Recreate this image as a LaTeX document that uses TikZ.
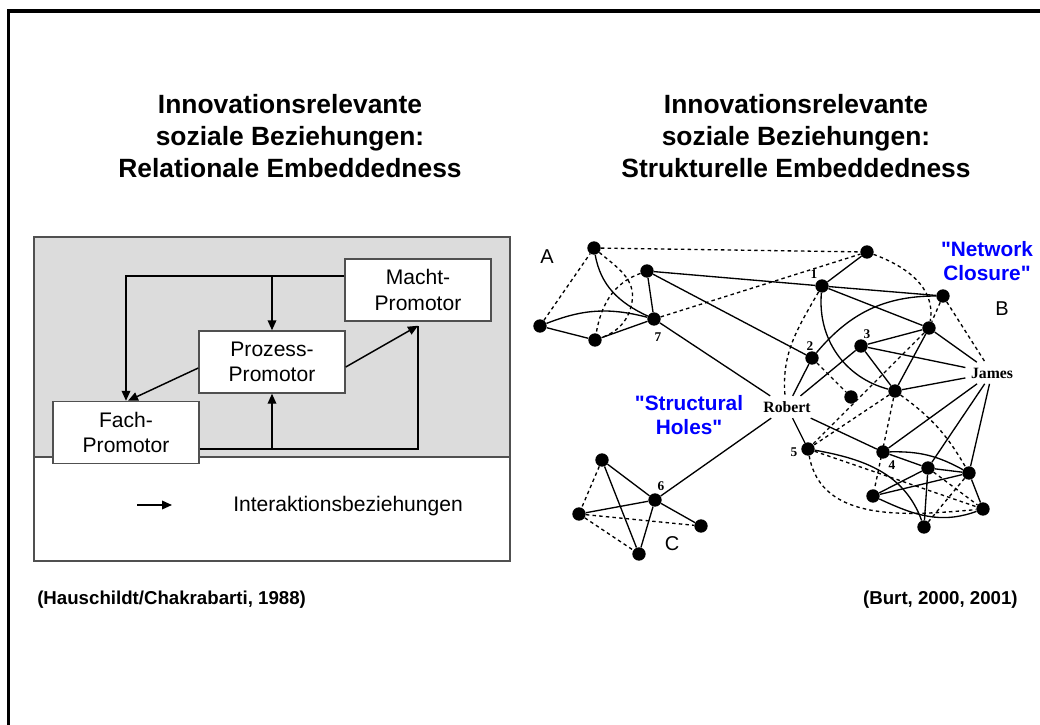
\documentclass[tikz,border=0pt]{standalone}
\usepackage{fontspec}
\setmainfont{Liberation Sans}
\newfontfamily\netfont{Liberation Serif}
% plain font without TeX ligature mapping, so that " stays a straight quote
\font\quotefont="Liberation Sans/B" at 15.6pt
\usetikzlibrary{arrows.meta,calc}
\definecolor{panelgray}{HTML}{DCDCDC}
\definecolor{boxline}{HTML}{505050}
\definecolor{hiblue}{HTML}{0000FF}
\begin{document}
\begin{tikzpicture}[x=0.75pt,y=-0.75pt,
  title/.style={align=center,font=\fontsize{19.8}{24}\selectfont\bfseries},
  cite/.style={font=\fontsize{14}{17}\selectfont\bfseries},
  promo/.style={draw=boxline,line width=1.1pt,fill=white,minimum width=146*0.75pt,
    minimum height=62*0.75pt,align=center,inner sep=0pt,
    font=\fontsize{15.8}{19}\selectfont},
  arr/.style={line width=1.1pt,-{Triangle[length=7.5pt,width=6.5pt]}},
  dot/.style={circle,fill=black,inner sep=0pt,minimum size=10pt},
  tie/.style={line width=1pt},
  weak/.style={line width=1pt,dash pattern=on 2.6pt off 2.4pt},
  pname/.style={font=\netfont\bfseries\fontsize{11.8}{14}\selectfont,inner sep=4pt},
  num/.style={font=\netfont\bfseries\fontsize{10}{12}\selectfont,inner sep=0pt},
  group/.style={font=\fontsize{15}{18}\selectfont,inner sep=0pt},
  bluetxt/.style={align=center,text=hiblue,font={\quotefont\baselineskip=18pt\relax},inner sep=0pt}]

\useasboundingbox (0,0) rectangle (1040,725);
% frame
\draw[line width=2.3pt] (8.5,725) -- (8.5,11) -- (1040,11);

% headings
\node[title] (t1) at (290,136) {Innovationsrelevante\\soziale Beziehungen:\\Relationale Embeddedness};
\node[title] (t2) at (796,136) {Innovationsrelevante\\soziale Beziehungen:\\Strukturelle Embeddedness};

% ---------- promotor model ----------
\fill[panelgray] (34,237) rectangle (510,457);
\draw[boxline,line width=1.1pt] (34,237) rectangle (510,561);
\draw[boxline,line width=1.1pt] (34,457) -- (510,457);

\node[promo] (macht) at (418,290) {Macht-\\Promotor};
\node[promo] (prozess) at (272,362) {Prozess-\\Promotor};
\node[promo] (fach) at (126,432.5) {Fach-\\Promotor};

\coordinate (mtap) at ($(macht.west)+(0,-14)$);
\coordinate (ftap) at ($(fach.east)+(0,16.5)$);
\coordinate (meet) at ($(macht.south)+(0,4)$);

\draw[arr] (mtap) -| (fach.north);
\draw[arr] (prozess.north |- mtap) -- (prozess.north);
\draw[arr] ($(prozess.west)+(0,6)$) -- ($(fach.north)+(2,0)$);
\draw[arr] ($(prozess.east)+(0,5)$) -- (meet);
\draw[line width=1.1pt] (ftap) -| (meet);
\draw[arr] (prozess.south |- ftap) -- (prozess.south);

\coordinate (lg1) at (137,505);
\coordinate (lg2) at (172,505);
\draw[arr] (lg1) -- (lg2);
\node[anchor=west,font=\fontsize{15.8}{19}\selectfont,inner sep=0pt] (lgtext) at (233,506) {Interaktionsbeziehungen};

\node[cite,anchor=west,inner sep=0pt] (c1text) at (37,600) {(Hauschildt/Chakrabarti, 1988)};
\node[cite,anchor=east,inner sep=0pt] (c2text) at (1018,600) {(Burt, 2000, 2001)};

% ---------- network ----------
% cluster A
\node[dot] (a1) at (594,248) {};
\node[dot] (a2) at (647,271) {};
\node[dot] (n7) at (654,319) {};
\node[dot] (a3) at (540,326) {};
\node[dot] (a4) at (595,340) {};
% cluster B
\node[dot] (nt) at (867,252) {};
\node[dot] (n1) at (822,286) {};
\node[dot] (nr) at (943,296) {};
\node[dot] (nm) at (929,328) {};
\node[dot] (n3) at (861,346) {};
\node[dot] (n2) at (812,358) {};
\node[dot] (ns) at (851,397) {};
\node[dot] (nc) at (895,391) {};
\node[dot] (n5) at (808,449) {};
\node[dot] (n4) at (883,452) {};
\node[dot] (na) at (928,468) {};
\node[dot] (nb) at (969,473) {};
\node[dot] (nd) at (873,496) {};
\node[dot] (ne) at (983,509) {};
\node[dot] (nf) at (924,527) {};
% cluster C
\node[dot] (c1) at (602,460) {};
\node[dot] (n6) at (655,500) {};
\node[dot] (c2) at (579,514) {};
\node[dot] (c3) at (701,526) {};
\node[dot] (c4) at (639,554) {};

\node[pname] (robert) at (787,407) {Robert};
\node[pname] (james) at (992,373) {James};

\node[num] (l1) at (814,274) {1};
\node[num] (l2) at (810,346) {2};
\node[num] (l3) at (867,334) {3};
\node[num] (l4) at (892,465) {4};
\node[num] (l5) at (794,452) {5};
\node[num] (l6) at (661,486) {6};
\node[num] (l7) at (658,337) {7};

\node[group] (gA) at (547,257) {A};
\node[group] (gB) at (1002,309) {B};
\node[group] (gC) at (672,544) {C};

\node[bluetxt] (holes) at (689,415) {"Structural\\Holes"};
\node[bluetxt] (closure) at (987,261) {"Network\\Closure"};

% ties in A
\draw[weak] (a3) -- (a1);
\draw[tie] (a3) -- (a4);
\draw[tie] (a3) to[bend left=18] (n7);
\draw[tie] (a4) -- (n7);
\draw[tie] (a2) -- (n7);
\draw[tie] (a1) to[out=-80,in=155] (n7);
\draw[weak] (a1) to[out=-40,in=80] (632,302) to[out=-100,in=20] (a4);
\draw[weak] (a2) to[out=200,in=80] (a4);
% bridges
\draw[weak] (a1) -- (nt);
\draw[weak] (n7) -- (nt);
\draw[tie] (a2) -- (n1);
\draw[tie] (a2) -- (n2);
\draw[tie] (n7) -- (robert);
\draw[tie] (n6) -- (robert);
% ties in B
\draw[tie] (n1) -- (nt);
\draw[tie] (n1) -- (nr);
\draw[tie] (n1) -- (nm);
\draw[tie] (n1) to[out=-95,in=165] (nc);
\draw[weak] (n1) to[out=-120,in=95] (robert.100);
\draw[weak] (nt) to[out=-20,in=80] (nm);
\draw[weak] (nr) -- (nm);
\draw[weak] (nr) -- (james);
\draw[tie] (nr) to[out=180,in=50] (n2);
\draw[tie] (nm) -- (n3);
\draw[tie] (nm) -- (james);
\draw[tie] (nm) -- (nc);
\draw[weak] (nm) -- (n5);
\draw[tie] (n3) -- (james);
\draw[tie] (n3) -- (nc);
\draw[tie] (n3) -- (robert);
\draw[tie] (n2) -- (robert);
\draw[weak] (n2) -- (ns);
\draw[tie] (nc) -- (james);
\draw[weak] (nc) -- (nd);
\draw[weak] (nc) -- (n5);
\draw[weak] (nc) to[bend left=12] (nb);
\draw[tie] (robert) -- (n5);
\draw[tie] (robert) -- (n4);
\draw[tie] (james) -- (n4);
\draw[tie] (james) -- (na);
\draw[tie] (james) -- (nb);
\draw[tie] (n4) -- (na);
\draw[tie] (n4) to[bend left=15] (nb);
\draw[tie] (na) -- (nb);
\draw[tie] (na) -- (nd);
\draw[tie] (nb) -- (nd);
\draw[tie] (na) -- (nf);
\draw[tie] (nb) -- (ne);
\draw[tie] (nd) to[out=-25,in=200] (ne);
\draw[tie] (n5) to[out=-10,in=110] (nf);
\draw[weak] (n5) -- (ne);
\draw[weak] (n5) to[out=-80,in=185] (ne);
\draw[weak] (na) -- (ne);
\draw[weak] (nb) -- (nf);
% ties in C
\draw[weak] (c1) -- (c2);
\draw[tie] (c1) -- (n6);
\draw[tie] (c1) -- (c4);
\draw[tie] (c2) -- (n6);
\draw[weak] (c2) -- (c3);
\draw[weak] (c2) -- (c4);
\draw[tie] (n6) -- (c3);
\draw[tie] (n6) -- (c4);
\end{tikzpicture}
\end{document}
